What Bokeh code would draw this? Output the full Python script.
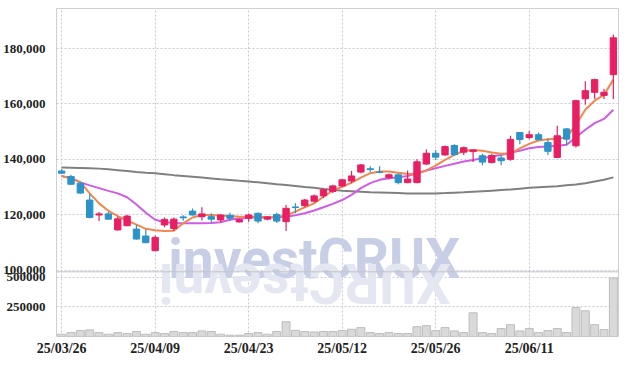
from bokeh.plotting import figure
from bokeh.models import Range1d, FixedTicker, Span, Label, ColumnDataSource, NumeralTickFormatter
from bokeh.embed import file_html
from bokeh.resources import INLINE

dates = ["25/03/26", "25/03/27", "25/03/28", "25/03/31", "25/04/01", "25/04/02", "25/04/03", "25/04/04",
         "25/04/07", "25/04/08", "25/04/09", "25/04/10", "25/04/11", "25/04/14", "25/04/15", "25/04/16",
         "25/04/17", "25/04/18", "25/04/21", "25/04/22", "25/04/23", "25/04/24", "25/04/25", "25/04/28",
         "25/04/29", "25/04/30", "25/05/02", "25/05/07", "25/05/08", "25/05/09", "25/05/12", "25/05/13",
         "25/05/14", "25/05/15", "25/05/16", "25/05/19", "25/05/20", "25/05/21", "25/05/22", "25/05/23",
         "25/05/26", "25/05/27", "25/05/28", "25/05/29", "25/05/30", "25/06/02", "25/06/04", "25/06/05",
         "25/06/09", "25/06/10", "25/06/11", "25/06/12", "25/06/13", "25/06/16", "25/06/17", "25/06/18",
         "25/06/19", "25/06/20", "25/06/23", "25/06/24"]

opens = [135800, 133800, 131400, 125300, 119900, 120300, 114500, 116000, 114800, 112300,
         107000, 116300, 115000, 119200, 121300, 119300, 119300, 118100, 119800, 117400,
         118700, 120500, 118400, 120100, 117500, 122800, 123300, 124900, 126800, 128400,
         130400, 132200, 135400, 136600, 135400, 133400, 134400, 131600, 131600, 138300,
         142200, 141600, 145000, 142600, 142800, 141300, 138900, 140500, 140000, 149700,
         147900, 148900, 146100, 140700, 151000, 144900, 161900, 164200, 163100, 170600]
highs = [136500, 134400, 131800, 127500, 121000, 121000, 119300, 120000, 116300, 114700,
         112500, 119000, 119000, 119800, 122200, 122700, 120500, 120200, 120700, 118500,
         120400, 120800, 119400, 120700, 123500, 124100, 125700, 127300, 129600, 130800,
         133000, 135800, 138300, 137500, 137500, 134800, 135000, 136000, 140000, 143600,
         143400, 145000, 145500, 144600, 143500, 142000, 142000, 141500, 148500, 149800,
         150300, 149700, 147400, 152100, 151300, 161500, 168200, 169100, 165400, 185100]
lows = [134800, 130900, 127700, 118700, 117700, 118300, 114300, 115900, 111000, 109700,
        106900, 115500, 114100, 117800, 119700, 117900, 117300, 117300, 117900, 117200,
        117500, 116900, 118000, 117000, 114100, 120500, 122700, 124400, 126000, 127800,
        130000, 131400, 135000, 135300, 135000, 132800, 131000, 131400, 131400, 138000,
        139800, 141300, 141300, 141600, 139000, 137900, 138500, 137900, 139500, 145500,
        147300, 147000, 141600, 140500, 145200, 144300, 159700, 161800, 161800, 161800]
closes = [135000, 131000, 127800, 119000, 120300, 118400, 118500, 119500, 111200, 109900,
          111800, 118300, 118400, 118900, 119900, 120300, 118400, 119900, 118700, 118200,
          119900, 117700, 119200, 117700, 122300, 122600, 125300, 126800, 129000, 130400,
          132600, 134000, 138000, 136300, 135300, 134400, 131600, 132900, 139100, 142200,
          140800, 144600, 141700, 144200, 143400, 139000, 141400, 139500, 147200, 147200,
          148900, 147100, 142900, 148500, 147300, 161200, 164800, 168800, 164200, 183900]
volumes = [19000, 33000, 50000, 56000, 33000, 19000, 33000, 25000, 42000, 19000,
           33000, 25000, 42000, 33000, 33000, 47000, 42000, 19000, 11000, 11000,
           25000, 33000, 19000, 42000, 125000, 52000, 42000, 38000, 42000, 42000,
           50000, 61000, 75000, 33000, 25000, 33000, 25000, 25000, 83000, 92000,
           50000, 75000, 47000, 33000, 200000, 33000, 25000, 67000, 100000, 47000,
           67000, 33000, 50000, 67000, 33000, 244000, 217000, 100000, 58000, 494000]
ma_short = [133900, 133200, 131800, 127700, 124100, 121400, 119500, 117900, 116400, 114900,
            114400, 114100, 114200, 116900, 119000, 119900, 119900, 119700, 119550, 119300,
            119300, 119300, 119100, 119100, 119700, 121100, 122700, 124100, 126500, 128700,
            130100, 131600, 133400, 135000, 135600, 135600, 135200, 134750, 134750, 136000,
            137700, 139800, 141600, 143100, 143400, 143100, 142500, 142000, 142000, 144000,
            145600, 146800, 147300, 147400, 148000, 152500, 157900, 161200, 163300, 168800]
ma_mid = [134000, 133200, 131700, 130600, 129600, 128600, 127700, 126300, 123700, 120700,
          118200, 117300, 117000, 116900, 116900, 116900, 117000, 117300, 118200, 118600,
          118900, 119000, 119000, 119100, 119300, 119800, 120500, 121500, 122700, 123900,
          125300, 127150, 129600, 131400, 132600, 133200, 133550, 134000, 135000, 136000,
          136800, 137650, 138400, 139200, 139800, 140400, 141000, 141600, 142500, 143100,
          144000, 144500, 144650, 144900, 145250, 148000, 150700, 153100, 154600, 157900]
ma_long = [137050, 137000, 136900, 136800, 136650, 136400, 136100, 135800, 135450, 135200,
           135000, 134650, 134300, 134000, 133700, 133400, 133100, 132800, 132550, 132250,
           132000, 131700, 131400, 131000, 130700, 130400, 130000, 129700, 129300, 129000,
           128700, 128500, 128300, 128100, 128000, 127900, 127800, 127700, 127650, 127650,
           127700, 127800, 127950, 128100, 128300, 128500, 128700, 128900, 129100, 129400,
           129700, 129900, 130100, 130300, 130600, 130900, 131400, 132000, 132600, 133500]

price_ticks = [100000, 120000, 140000, 160000, 180000]
volume_ticks = [250000, 500000]
date_tick_idx = [0, 10, 20, 30, 40, 50]

UP, DOWN = "#e91e63", "#2b93c8"
idx = list(range(len(dates)))
colors = [UP if c >= o else DOWN for o, c in zip(opens, closes)]
src = ColumnDataSource(dict(
    x=idx, o=opens, h=highs, l=lows, c=closes, v=volumes,
    top=[max(o, c) for o, c in zip(opens, closes)],
    bot=[min(o, c) for o, c in zip(opens, closes)],
    col=colors, m5=ma_short, m20=ma_mid, m120=ma_long,
))

price_lo, price_hi = 76000, 194500
vol_hi = 2770000
scale = (price_hi - price_lo) / vol_hi
vol_tick_pos = [round(price_lo + v * scale) for v in volume_ticks]

p = figure(width=620, height=364, output_backend="svg", toolbar_location=None,
           x_range=Range1d(-0.55, len(dates) - 0.45), y_range=Range1d(price_lo, price_hi),
           min_border_left=50, min_border_right=2, min_border_top=8, min_border_bottom=28)
p.extra_y_ranges = {"vol": Range1d(0, vol_hi)}
p.outline_line_color = "#cfcfcf"
p.background_fill_color = "white"

# watermark with reflection
wm_font = "Roboto"
p.add_layout(Label(x=11.4, y=103900, text="investCRUX", text_font=wm_font, text_font_style="bold",
                   text_font_size="55px", text_color="#c8cee6", text_align="left",
                   text_baseline="alphabetic", level="underlay"))
p.add_layout(Label(x=41.6, y=95200, text="investCRUX"[::-1], text_font=wm_font, text_font_style="bold",
                   text_font_size="55px", text_color="#e4e7f1", text_align="left",
                   text_baseline="alphabetic", angle=3.14159265, level="underlay"))

# volume
p.vbar(x="x", width=0.85, top="v", bottom=0, y_range_name="vol", source=src,
       fill_color="#d9d9d9", line_color="#bdbdbd", line_width=1)

# moving averages
p.line("x", "m120", source=src, line_color="#808080", line_width=2)
p.line("x", "m20", source=src, line_color="#d05ce6", line_width=2)
p.line("x", "m5", source=src, line_color="#f0874f", line_width=2)

# candles
p.segment(x0="x", y0="h", x1="x", y1="l", source=src, line_color="col", line_width=1.2)
p.vbar(x="x", width=0.68, top="top", bottom="bot", source=src, fill_color="col", line_color="col")

p.add_layout(Span(location=99370, dimension="width", line_color="#c4c4c4", line_width=1))

# axes
ya = p.yaxis[0]
ya.ticker = FixedTicker(ticks=vol_tick_pos + price_ticks)
ya.formatter = NumeralTickFormatter(format="0,0")
ya.major_label_overrides = {t: f"{v}" for t, v in zip(vol_tick_pos, volume_ticks)}
ya.axis_line_color = None
ya.major_tick_line_color = None
ya.minor_tick_line_color = None
ya.major_label_standoff = 5
ya.major_label_text_font = "Liberation Sans Narrow"
ya.major_label_text_font_style = "bold"
ya.major_label_text_font_size = "13px"
ya.major_label_text_color = "#222222"

xa = p.xaxis[0]
xa.ticker = FixedTicker(ticks=date_tick_idx)
xa.major_label_overrides = {i: dates[i] for i in date_tick_idx}
xa.axis_line_color = None
xa.major_tick_line_color = None
xa.minor_tick_line_color = None
xa.major_label_standoff = -2
xa.major_label_text_font = "Liberation Sans Narrow"
xa.major_label_text_font_style = "bold"
xa.major_label_text_font_size = "14px"
xa.major_label_text_color = "#222222"

for g in (p.xgrid[0], p.ygrid[0]):
    g.grid_line_color = "#c6c9de"
    g.grid_line_dash = "2 2"
    g.grid_line_width = 1

open("out.html", "w").write(file_html(p, INLINE))
